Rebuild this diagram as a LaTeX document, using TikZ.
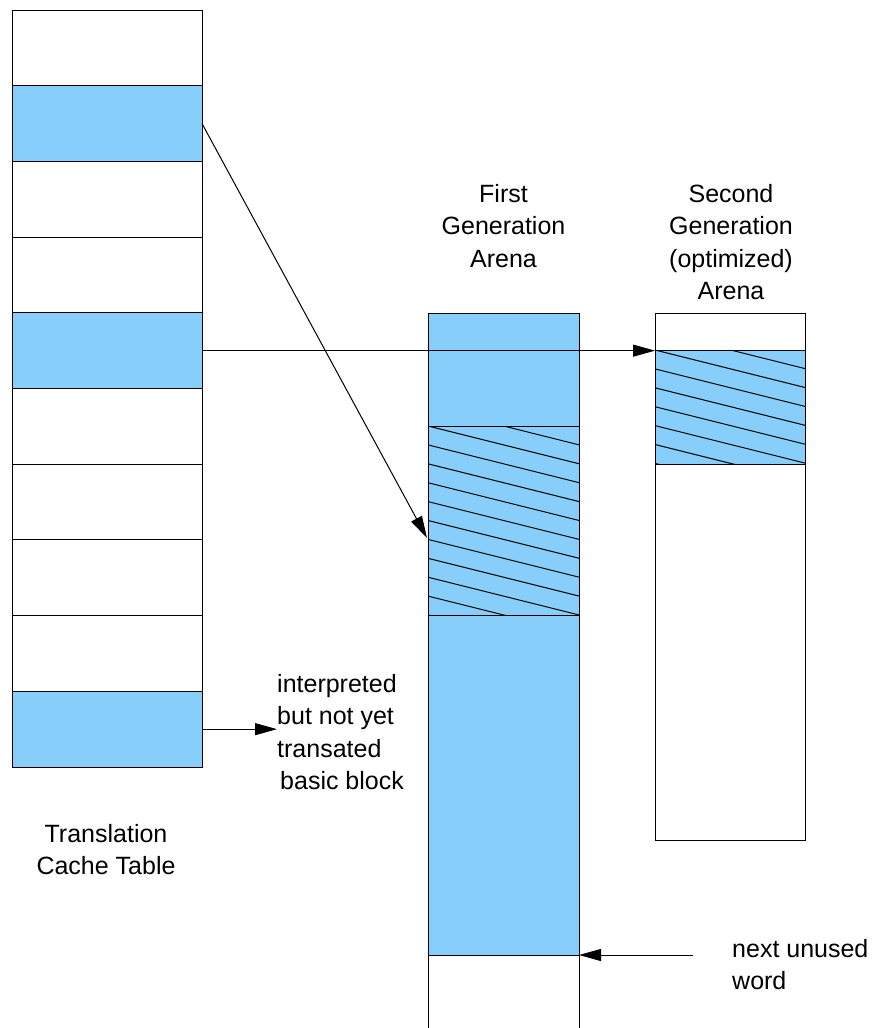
\documentclass[tikz,border=0pt]{standalone}
\usepackage{fontspec}
\setmainfont{Liberation Sans}
\usetikzlibrary{arrows.meta}

\definecolor{cellblue}{RGB}{135,206,250}

\tikzset{
    cell/.style={draw, line width=1pt, inner sep=0pt, outer sep=0pt, anchor=north west,
        minimum width=190pt, minimum height=75.7pt},
    used/.style={cell, fill=cellblue},
    block/.style={draw, line width=1pt, inner sep=0pt, outer sep=0pt, anchor=north west},
    tag/.style={inner sep=0pt, align=center, anchor=north},
    arr/.style={line width=1pt, -{Triangle[length=22pt,width=12pt]}}
}

% diagonal lines inside a block
\newcommand{\hatchcell}[1]{
    \begin{scope}
        \clip (#1.south west) rectangle (#1.north east);
        \foreach \k in {-2,...,10}
            \draw[line width=1pt] (#1.north west) ++(0,\k*18.9) -- ++(160,40);
    \end{scope}
    \draw[line width=1pt] (#1.south west) rectangle (#1.north east);
}

\begin{document}
\begin{tikzpicture}[x=1pt,y=-1pt,every node/.style={font=\fontsize{25}{32.5}\selectfont}]
        \useasboundingbox (0,0) rectangle (871,1028);

        % translation cache table
        \foreach \i in {1,...,10} {
            \pgfmathsetmacro{\ytop}{10+(\i-1)*75.7}
            \node[cell] (t\i) at (12,\ytop) {};
        }
        \foreach \i in {2,5,10}
            \node[used] at (t\i.north west) {};
        \node[tag] (tct) at (106,824) {Translation\\Cache Table};

        % first generation arena
        \node[block, fill=cellblue, minimum width=151pt, minimum height=113pt] (fa1) at (428,313) {};
        \node[block, fill=cellblue, minimum width=151pt, minimum height=189pt] (fa2) at (fa1.south west) {};
        \node[block, fill=cellblue, minimum width=151pt, minimum height=340pt] (fa3) at (fa2.south west) {};
        \hatchcell{fa2}
        \draw[line width=1pt] (fa3.south west) -- ++(0,73);
        \draw[line width=1pt] (fa3.south east) -- ++(0,73);
        \node[tag] (first) at (503.5,184) {First\\Generation\\Arena};

        % second generation arena
        \node[block, minimum width=150pt, minimum height=37pt] (sa1) at (655,313) {};
        \node[block, fill=cellblue, minimum width=150pt, minimum height=114pt] (sa2) at (sa1.south west) {};
        \node[block, minimum width=150pt, minimum height=376pt] (sa3) at (sa2.south west) {};
        \hatchcell{sa2}
        \node[tag] (second) at (731,184) {Second\\Generation\\(optimized)\\Arena};

        \node[tag, align=left, anchor=north west] (note) at (277,674)
            {interpreted\\but not yet\\transated\\\hspace*{3pt}basic block};
        \node[tag, align=left, anchor=north west] (unused) at (732,939) {next unused\\word};

        \coordinate (hit) at (427,538);
        \coordinate (free) at (693,955);

        \draw[arr] (t2.east) -- (hit);
        \draw[arr] (t5.east) -- (t5.east -| sa2.west);
        \draw[arr] (t10.east) -- (t10.east -| note.west);
        \draw[arr] (free) -- (fa3.south east);
    \end{tikzpicture}
\end{document}
